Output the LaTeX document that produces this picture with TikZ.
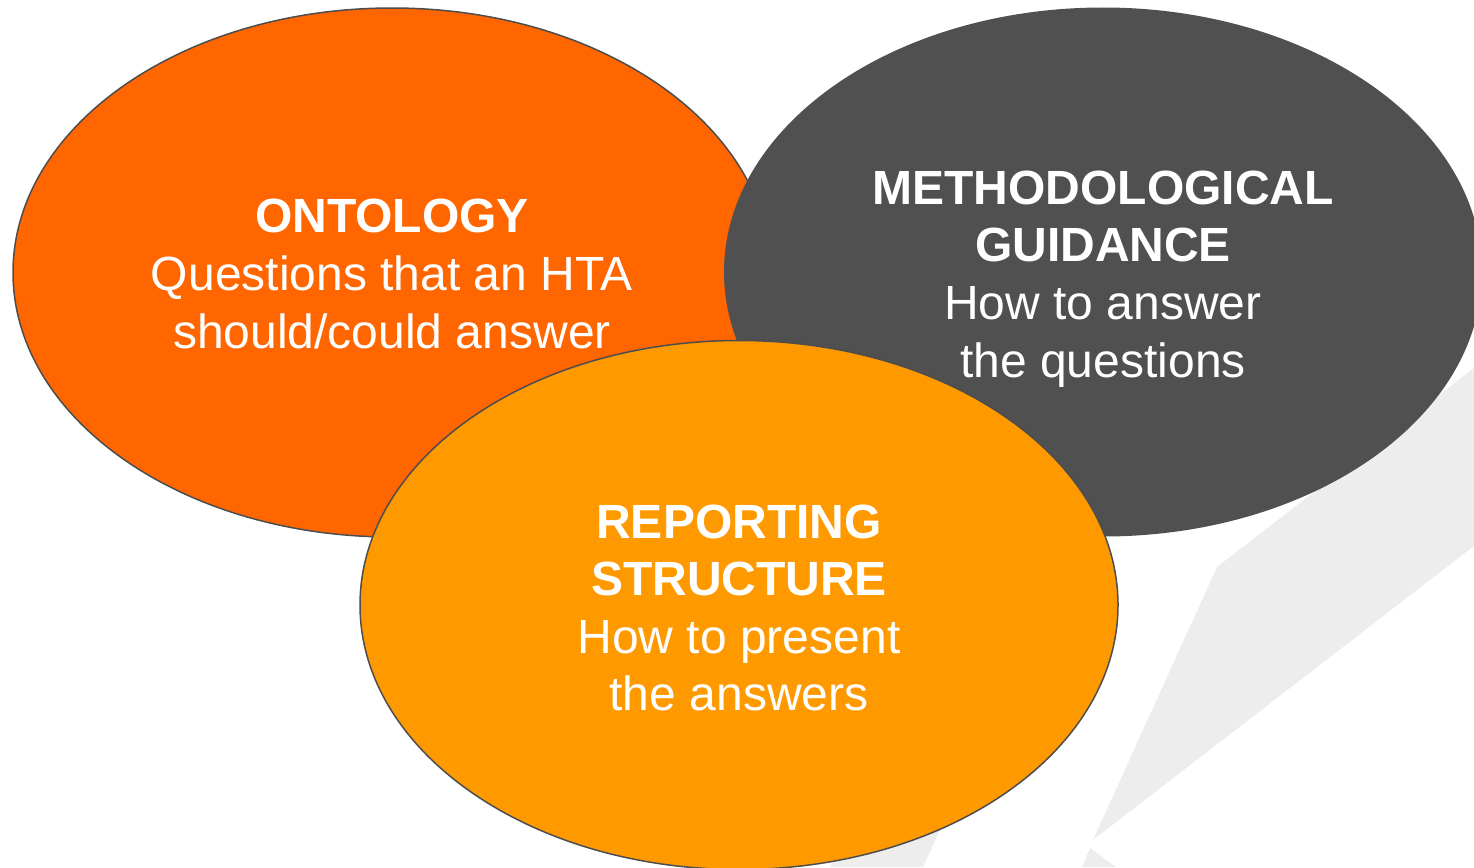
\documentclass[tikz,border=0pt]{standalone}
\usepackage{fontspec}
\setmainfont{Liberation Sans}
\usepackage{tikz}
\usetikzlibrary{
    calc,
    positioning,
    shapes.geometric
}
\definecolor{ontoorange}{HTML}{FF6600}
\definecolor{methgrey}{HTML}{505050}
\definecolor{reportorange}{HTML}{FF9900}
\definecolor{bandgrey}{HTML}{EDEDED}
\definecolor{rimgrey}{HTML}{4D4D4D}
\tikzset{
    oval/.style={ellipse, inner sep=0pt, minimum width=758pt, minimum height=529pt, line width=1.5pt},
    ovaltext/.style={text=white, align=center, font=\fontsize{48}{57.6}\selectfont}
}
\newcommand{\topicoval}[5]{
    \node[oval, #3] (#1) at (#2) {};
    \node[ovaltext] (#1text) at ($(#1) + (0, #4)$) {#5};
}

\begin{document}
\begin{tikzpicture}[x=1pt, y=-1pt]
    \useasboundingbox (0, 0) rectangle (1474, 867);
    \fill[bandgrey] (1217, 567) -- (1474, 368) -- (1474, 546) -- (1093, 840) -- cycle;
    \fill[bandgrey] (830, 867) -- (923, 867) -- (1022, 650) -- (929, 650) -- cycle;
    \fill[bandgrey] (1090, 848) -- (1116, 867) -- (1082, 867) -- cycle;
    \topicoval{onto}{392, 272.5}{fill=ontoorange, draw=rimgrey}{1.5}{\textbf{ONTOLOGY}\\Questions that an HTA\\should/could answer}
    \topicoval{meth}{1103, 272}{fill=methgrey}{7}{\textbf{METHODOLOGICAL}\\\textbf{GUIDANCE}\\How to answer\\the questions}
    \topicoval{report}{739, 605}{fill=reportorange, draw=rimgrey}{3}{\textbf{REPORTING}\\\textbf{STRUCTURE}\\How to present\\the answers}
\end{tikzpicture}
\end{document}
